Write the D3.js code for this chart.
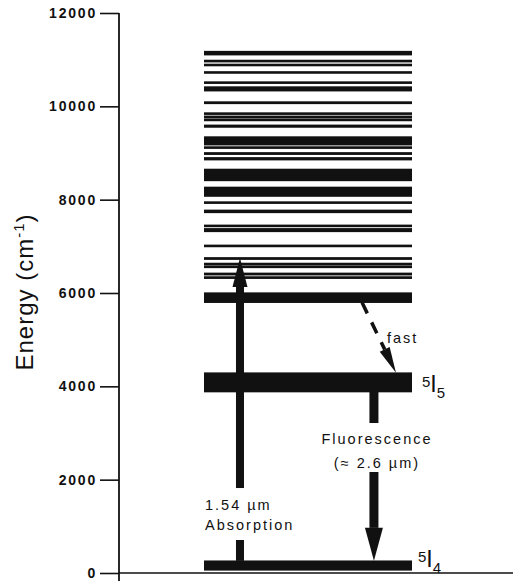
<!DOCTYPE html>
<html>
<head>
<meta charset="utf-8">
<script src="https://cdn.jsdelivr.net/npm/d3@7"></script>
<style>
  body { margin: 0; background: #fff; }
  svg text { font-family: "Liberation Sans", Arial, sans-serif; fill: #111; }
</style>
</head>
<body>
<div id="chart"></div>
<script>
// energy axis ticks (cm-1)
var energyTicks = [0, 2000, 4000, 6000, 8000, 10000, 12000];

// upper excited levels, [low, high] in cm-1
var upperLevels = [
  [11100, 11180], [10950, 10990], [10875, 10905], [10707, 10745],
  [10493, 10527], [10328, 10420], [10056, 10099], [9836, 9863],
  [9750, 9793], [9700, 9728], [9550, 9600], [9171, 9349],
  [9100, 9135], [8967, 9010], [8850, 8903], [8405, 8655],
  [8070, 8270], [7922, 7956], [7720, 7778], [7425, 7457],
  [7313, 7382], [6992, 7028], [6718, 6760], [6600, 6640],
  [6546, 6580], [6385, 6428], [6310, 6350], [5795, 6005]
];

// the two lower manifolds
var manifoldNames = ["5I5", "5I4"];
var manifoldLow  = [3880, 60];
var manifoldHigh = [4290, 260];

var W = 515, H = 581;

var svg = d3.select("#chart").append("svg")
  .attr("width", W).attr("height", H);

var y = d3.scaleLinear().domain([0, 12000]).range([573, 13]);
// notional horizontal position of the level diagram, 0..100
var x = d3.scaleLinear().domain([0, 100]).range([204, 412]);
var axisX = 119;

// ---- axis
var yAxis = svg.append("g")
  .attr("transform", "translate(" + axisX + ",0)")
  .call(d3.axisLeft(y).tickValues(energyTicks).tickSize(19).tickPadding(3).tickSizeOuter(0));
yAxis.select(".domain").remove();
yAxis.selectAll(".tick line").attr("stroke", "#111").attr("stroke-width", 1.6);
yAxis.selectAll(".tick text")
  .attr("fill", "#111")
  .style("font-size", "14px")
  .style("font-weight", "bold")
  .style("letter-spacing", "1.8px")
  .text(function(d) { return d; });

svg.append("line")
  .attr("x1", axisX).attr("x2", axisX)
  .attr("y1", y(12000)).attr("y2", y(0) + 8)
  .attr("stroke", "#111").attr("stroke-width", 1.8);
svg.append("line")
  .attr("x1", axisX).attr("x2", 513)
  .attr("y1", y(0)).attr("y2", y(0))
  .attr("stroke", "#111").attr("stroke-width", 1.5);

svg.append("text")
  .attr("transform", "translate(33," + 292 + ") rotate(-90)")
  .attr("text-anchor", "middle")
  .style("font-size", "24px")
  .style("letter-spacing", "1px")
  .call(function(t) {
    t.append("tspan").text("Energy (cm");
    t.append("tspan").attr("dy", -9).style("font-size", "15px").text("-1");
    t.append("tspan").attr("dy", 9).text(")");
  });

// ---- levels
var bands = upperLevels.concat(manifoldLow.map(function(lo, i) { return [lo, manifoldHigh[i]]; }));
svg.selectAll("rect.level")
  .data(bands)
  .enter().append("rect")
  .attr("class", "level")
  .attr("x", x(0))
  .attr("width", x(100) - x(0))
  .attr("y", function(d) { return y(d[1]) - 0.4; })
  .attr("height", function(d) { return Math.max(2.6, y(d[0]) - y(d[1]) + 0.8); })
  .attr("fill", "#111");

// manifold labels
var labelPos = [{x: 422, base: 392}, {x: 418, base: 567}];
manifoldNames.forEach(function(name, i) {
  var p = labelPos[i];
  var t = svg.append("text").attr("x", p.x).attr("y", p.base);
  t.append("tspan").attr("dy", -5).style("font-size", "15px").text(name[0]);
  t.append("tspan").attr("dy", 5).style("font-size", "23px").text(name[1]);
  t.append("tspan").attr("dy", 6).style("font-size", "15px").text(name[2]);
});

// ---- arrows
function solidArrow(xp, eFrom, eTip, gap, headLen, headW, shaftW) {
  var cx = x(xp), yTip = y(eTip), dir = eTip > eFrom ? 1 : -1;
  var yBase = yTip + dir * headLen;
  var segs = [[y(eFrom), y(gap[0])], [y(gap[1]), yBase]];
  if (dir < 0) segs = [[y(eFrom), y(gap[1])], [y(gap[0]), yBase]];
  segs.forEach(function(s) {
    svg.append("rect")
      .attr("x", cx - shaftW / 2).attr("width", shaftW)
      .attr("y", Math.min(s[0], s[1])).attr("height", Math.abs(s[1] - s[0]))
      .attr("fill", "#111");
  });
  svg.append("path")
    .attr("d", "M" + (cx - headW / 2) + "," + yBase + "L" + (cx + headW / 2) + "," + yBase + "L" + cx + "," + yTip + "Z")
    .attr("fill", "#111");
}

// absorption 5I4 -> upper levels
solidArrow(17.3, 260, 6750, [707, 1821], 29, 15, 8);
// fluorescence 5I5 -> 5I4
solidArrow(81.7, 3880, 260, [2164, 3214], 33, 18, 9);

// fast relaxation, dashed
(function() {
  var x0 = x(76), y0 = y(5795), x1 = x(92.3), y1 = y(4290);
  var dx = x1 - x0, dy = y1 - y0, L = Math.sqrt(dx * dx + dy * dy);
  var ux = dx / L, uy = dy / L, headLen = 26, headW = 11;
  var bx = x1 - ux * headLen, by = y1 - uy * headLen;
  svg.append("line")
    .attr("x1", x0).attr("y1", y0).attr("x2", bx).attr("y2", by)
    .attr("stroke", "#111").attr("stroke-width", 3.5)
    .attr("stroke-dasharray", "12,10");
  svg.append("path")
    .attr("d", "M" + (bx - uy * headW / 2) + "," + (by + ux * headW / 2) +
               "L" + (bx + uy * headW / 2) + "," + (by - ux * headW / 2) +
               "L" + x1 + "," + y1 + "Z")
    .attr("fill", "#111");
})();

// ---- annotation text
function label(tx, ty, str, anchor) {
  svg.append("text")
    .attr("x", tx).attr("y", ty)
    .attr("text-anchor", anchor || "middle")
    .style("font-size", "14.5px")
    .style("letter-spacing", "2px")
    .text(str);
}
label(387, 343, "fast", "start");
label(377, 444, "Fluorescence");
label(377, 468, "(\u2248 2.6 \u00b5m)");
label(205, 510, "1.54 \u00b5m", "start");
label(205, 530, "Absorption", "start");
</script>
</body>
</html>
